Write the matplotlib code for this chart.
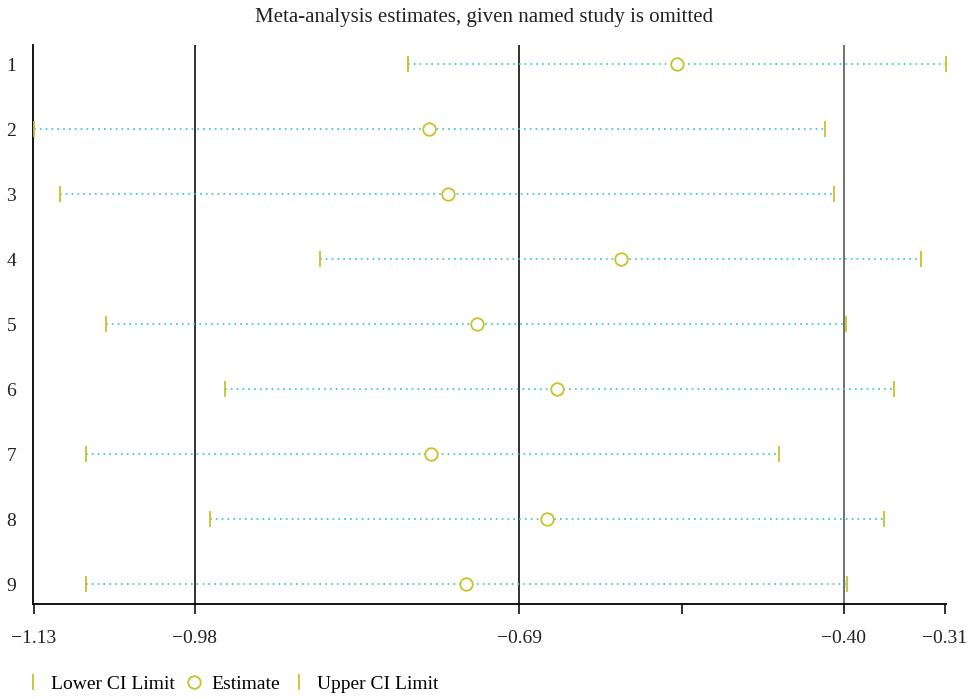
import matplotlib
matplotlib.use("Agg")
import matplotlib.pyplot as plt
from matplotlib.lines import Line2D

# 데이터
studies = ["1", "2", "3", "4", "5", "6", "7", "8", "9"]
lower = [-0.789, -1.124, -1.100, -0.868, -1.059, -0.953, -1.077, -0.966, -1.077]
estimate = [-0.549, -0.771, -0.754, -0.599, -0.728, -0.656, -0.769, -0.665, -0.738]
upper = [-0.309, -0.417, -0.409, -0.331, -0.398, -0.355, -0.458, -0.364, -0.397]

ref_lines = [-0.98, -0.69, -0.40]
tick_vals = [-1.124, -0.98, -0.69, -0.545, -0.40, -0.31]
tick_labels = ["\u22121.13", "\u22120.98", "\u22120.69", "", "\u22120.40", "\u22120.31"]

olive = "#c4c42a"
cyan = "#2cc6c6"

plt.rcParams["font.family"] = ["Liberation Serif", "DejaVu Serif"]

fig = plt.figure(figsize=(9.69, 6.99), dpi=100)
ax = fig.add_axes([0.034, 0.136, 0.942, 0.8])

ypos = list(range(1, len(studies) + 1))

# 기준선
for i, v in enumerate(ref_lines):
    ax.axvline(v, color="#222222" if i < 2 else "#666666", linewidth=1.3, zorder=1)

# CI 점선
for y, lo, hi in zip(ypos, lower, upper):
    ax.plot([lo, hi], [y, y], color=cyan, linestyle=(0, (1, 2.5)), linewidth=1.2, zorder=2)

ax.plot(lower, ypos, linestyle="none", marker="|", markersize=12, markeredgewidth=1.3, color=olive, zorder=3)
ax.plot(upper, ypos, linestyle="none", marker="|", markersize=12, markeredgewidth=1.3, color=olive, zorder=3)
ax.plot(estimate, ypos, linestyle="none", marker="o", markersize=9, markerfacecolor="white",
        markeredgewidth=1.3, color=olive, zorder=4)

ax.set_xlim(-1.1245, -0.309)
ax.set_ylim(9.3, 0.7)
ax.set_yticks(ypos)
ax.set_yticklabels(studies)
ax.set_xticks(tick_vals)
ax.set_xticklabels(tick_labels)

ax.spines["top"].set_visible(False)
ax.spines["right"].set_visible(False)
ax.spines["left"].set_linewidth(1.3)
ax.spines["bottom"].set_linewidth(1.3)
ax.tick_params(axis="x", length=7, width=1.3, labelsize=14, pad=12, colors="#222222")
ax.tick_params(axis="y", length=0, labelsize=14, pad=12, colors="#222222")

fig.text(0.5, 0.975, "Meta-analysis estimates, given named study is omitted",
         ha="center", va="center", fontsize=15, color="#222222")

handles = [
    Line2D([], [], linestyle="none", marker="|", markersize=12, markeredgewidth=1.3, color=olive),
    Line2D([], [], linestyle="none", marker="o", markersize=9, markerfacecolor="white", markeredgewidth=1.3, color=olive),
    Line2D([], [], linestyle="none", marker="|", markersize=12, markeredgewidth=1.3, color=olive),
]
fig.legend(handles, ["Lower CI Limit", "Estimate", "Upper CI Limit"], loc="center left",
           bbox_to_anchor=(0.008, 0.021), ncol=3, frameon=False, fontsize=14,
           handlelength=0.8, handletextpad=0.5, columnspacing=0.6)

fig.savefig("out.png", dpi=100)
